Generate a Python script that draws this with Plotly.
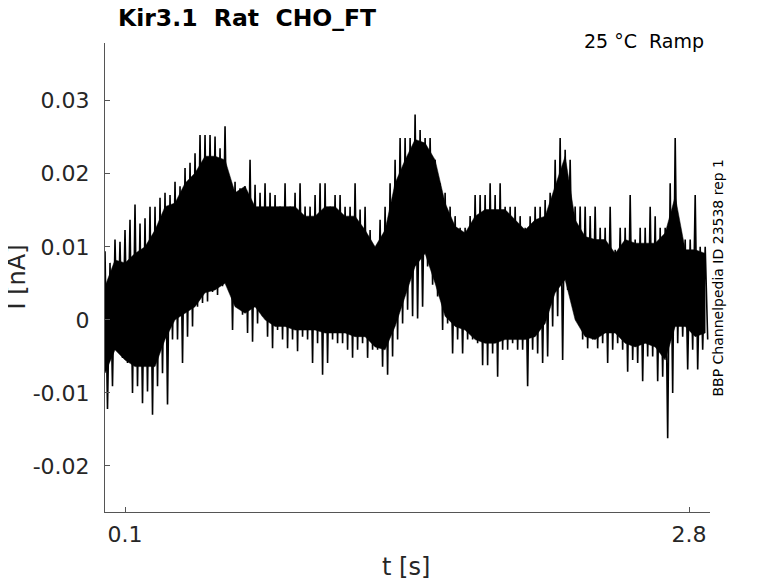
import plotly.graph_objects as go
import numpy as np

# recording: Kir3.1 rat, CHO_FT, 25 C ramp (noisy current trace)
# envelope, one column every ~0.024 s
t_start = 0.004
t_end = 2.877

upper_nA = [
    0.0094, 0.0078, 0.0110, 0.0107, 0.0123, 0.0137, 0.0158, 0.0132, 0.0139, 0.0155,
    0.0155, 0.0167, 0.0174, 0.0171, 0.0189, 0.0183, 0.0208, 0.0215, 0.0228, 0.0253,
    0.0253, 0.0253, 0.0251, 0.0235, 0.0265, 0.0189, 0.0189, 0.0180, 0.0183, 0.0219,
    0.0185, 0.0174, 0.0187, 0.0174, 0.0171, 0.0155, 0.0187, 0.0155, 0.0174, 0.0187,
    0.0155, 0.0155, 0.0171, 0.0187, 0.0187, 0.0155, 0.0171, 0.0171, 0.0155, 0.0155,
    0.0187, 0.0151, 0.0155, 0.0123, 0.0096, 0.0137, 0.0155, 0.0187, 0.0219, 0.0249,
    0.0249, 0.0249, 0.0281, 0.0260, 0.0249, 0.0249, 0.0219, 0.0187, 0.0174, 0.0155,
    0.0142, 0.0126, 0.0126, 0.0142, 0.0171, 0.0171, 0.0171, 0.0187, 0.0171, 0.0187,
    0.0155, 0.0155, 0.0155, 0.0142, 0.0126, 0.0142, 0.0155, 0.0155, 0.0164, 0.0174,
    0.0219, 0.0249, 0.0233, 0.0219, 0.0155, 0.0155, 0.0155, 0.0142, 0.0155, 0.0126,
    0.0126, 0.0155, 0.0096, 0.0126, 0.0126, 0.0171, 0.0110, 0.0126, 0.0126, 0.0155,
    0.0142, 0.0126, 0.0126, 0.0187, 0.0249, 0.0126, 0.0110, 0.0110, 0.0171, 0.0100,
    0.0100,
]

lower_nA = [
    -0.0122, -0.0091, -0.0041, -0.0052, -0.0059, -0.0100, -0.0091, -0.0114, -0.0098, -0.0130,
    -0.0091, -0.0073, -0.0116, -0.0027, -0.0027, -0.0059, -0.0023, -0.0009, 0.0018, 0.0023,
    0.0025, 0.0038, 0.0034, 0.0046, 0.0048, -0.0014, 0.0025, 0.0007, -0.0018, -0.0030,
    -0.0005, 0.0005, -0.0023, -0.0039, -0.0014, -0.0027, -0.0039, -0.0027, -0.0043, -0.0023,
    -0.0027, -0.0059, -0.0032, -0.0075, -0.0059, -0.0027, -0.0032, -0.0032, -0.0041, -0.0052,
    -0.0041, -0.0032, -0.0052, -0.0041, -0.0041, -0.0064, -0.0075, -0.0050, -0.0027, -0.0005,
    0.0014, 0.0005, 0.0002, 0.0018, 0.0073, 0.0048, 0.0032, -0.0014, -0.0005, -0.0046,
    -0.0027, -0.0046, -0.0027, -0.0027, -0.0032, -0.0062, -0.0062, -0.0046, -0.0078, -0.0041,
    -0.0041, -0.0032, -0.0041, -0.0041, -0.0091, -0.0041, -0.0046, -0.0059, -0.0050, -0.0009,
    0.0005, -0.0055, 0.0041, 0.0023, 0.0009, -0.0027, -0.0039, -0.0027, -0.0039, -0.0032,
    -0.0059, -0.0041, -0.0032, -0.0041, -0.0071, -0.0055, -0.0059, -0.0084, -0.0050, -0.0050,
    -0.0084, -0.0078, -0.0162, -0.0100, -0.0032, -0.0023, -0.0068, -0.0041, -0.0068, -0.0041,
    -0.0027,
]

# the dense (solid black) part of the noise band, one value every ~0.048 s
core_upper_nA = [
    0.0046, 0.0082, 0.0078, 0.0091, 0.0100, 0.0123, 0.0155, 0.0160, 0.0187, 0.0201,
    0.0224, 0.0224, 0.0219, 0.0174, 0.0183, 0.0155, 0.0155, 0.0155, 0.0155, 0.0155,
    0.0142, 0.0142, 0.0155, 0.0155, 0.0142, 0.0142, 0.0123, 0.0100, 0.0123, 0.0187,
    0.0219, 0.0247, 0.0242, 0.0219, 0.0160, 0.0128, 0.0119, 0.0142, 0.0151, 0.0151,
    0.0151, 0.0137, 0.0123, 0.0137, 0.0142, 0.0183, 0.0224, 0.0137, 0.0114, 0.0110,
    0.0110, 0.0091, 0.0110, 0.0105, 0.0105, 0.0105, 0.0119, 0.0169, 0.0096, 0.0096,
    0.0091,
]
core_lower_nA = [
    -0.0073, -0.0041, -0.0055, -0.0064, -0.0064, -0.0064, -0.0027, 0.0000, 0.0009, 0.0018,
    0.0037, 0.0041, 0.0050, 0.0018, 0.0009, 0.0018, 0.0000, -0.0009, -0.0009, -0.0014,
    -0.0014, -0.0014, -0.0018, -0.0018, -0.0018, -0.0023, -0.0023, -0.0037, -0.0041, -0.0009,
    0.0032, 0.0073, 0.0091, 0.0050, 0.0005, -0.0009, -0.0014, -0.0027, -0.0032, -0.0032,
    -0.0027, -0.0027, -0.0027, -0.0023, -0.0005, 0.0037, 0.0055, 0.0000, -0.0023, -0.0027,
    -0.0018, -0.0018, -0.0032, -0.0037, -0.0032, -0.0037, -0.0055, -0.0009, -0.0009, -0.0023,
    -0.0018,
]

y_ticks = [-0.02, -0.01, 0, 0.01, 0.02, 0.03]
y_tick_text = ["-0.02", "-0.01", "0", "0.01", "0.02", "0.03"]
x_ticks = [0.1, 2.8]
x_tick_text = ["0.1", "2.8"]

# zig-zag between the high and low excursions of each column
n = len(upper_nA)
tc = np.linspace(t_start, t_end, n)
half = (tc[1] - tc[0]) / 2
t = np.empty(2 * n)
i_nA = np.empty(2 * n)
t[0::2] = tc
t[1::2] = tc + half
i_nA[0::2] = upper_nA
i_nA[1::2] = lower_nA

tk = np.linspace(t_start, t_end, len(core_upper_nA))

fig = go.Figure()

# solid core of the band
fig.add_trace(go.Scatter(
    x=list(tk) + list(tk[::-1]),
    y=core_upper_nA + core_lower_nA[::-1],
    mode='lines', fill='toself', fillcolor='black',
    line=dict(color='black', width=0.5),
    showlegend=False, hoverinfo='skip',
))
fig.add_trace(go.Scatter(
    x=t, y=i_nA,
    mode='lines',
    line=dict(color='black', width=1.6),
    showlegend=False,
))

axis_col = '#555555'
tick_font = dict(family='DejaVu Sans', size=22, color='#262626')

# page body has an 8px margin, so the figure is drawn 8px smaller
fig.update_layout(
    width=770, height=575,
    margin=dict(l=97, r=68, t=35, b=71),
    paper_bgcolor='white', plot_bgcolor='white',
    font=dict(family='DejaVu Sans', color='#262626'),
    xaxis=dict(
        range=[0.004, 2.90],
        tickvals=x_ticks, ticktext=x_tick_text,
        ticks='inside', ticklen=5, tickcolor=axis_col,
        showline=True, linecolor=axis_col, linewidth=1,
        showgrid=False, zeroline=False,
        tickfont=tick_font, ticklabelstandoff=3,
    ),
    yaxis=dict(
        range=[-0.0263, 0.0379],
        tickvals=y_ticks, ticktext=y_tick_text,
        ticks='inside', ticklen=5, tickcolor=axis_col,
        showline=True, linecolor=axis_col, linewidth=1,
        showgrid=False, zeroline=False,
        tickfont=tick_font, ticklabelstandoff=10,
    ),
)

# titles and labels
fig.add_annotation(x=0.018, y=1.0533, xref='paper', yref='paper',
                   text='<b>Kir3.1  Rat  CHO_FT</b>', showarrow=False,
                   xanchor='left', yanchor='middle',
                   font=dict(family='DejaVu Sans', size=23.5, color='black'))
fig.add_annotation(x=0.9934, y=1.005, xref='paper', yref='paper',
                   text='25 °C  Ramp', showarrow=False,
                   xanchor='right', yanchor='middle',
                   font=dict(family='DejaVu Sans', size=19, color='black'))
fig.add_annotation(x=1.0116, y=0.5, xref='paper', yref='paper',
                   text='BBP Channelpedia ID 23538 rep 1', showarrow=False,
                   textangle=-90, xanchor='center', yanchor='middle',
                   font=dict(family='DejaVu Sans', size=14, color='black'))
fig.add_annotation(x=-0.147, y=0.5, xref='paper', yref='paper',
                   text='I [nA]', showarrow=False,
                   textangle=-90, xanchor='center', yanchor='middle',
                   font=dict(family='DejaVu Sans', size=24, color='#262626'))
fig.add_annotation(x=0.4975, y=-0.1173, xref='paper', yref='paper',
                   text='t [s]', showarrow=False,
                   xanchor='center', yanchor='middle',
                   font=dict(family='DejaVu Sans', size=24, color='#262626'))

fig.write_html("out.html")
